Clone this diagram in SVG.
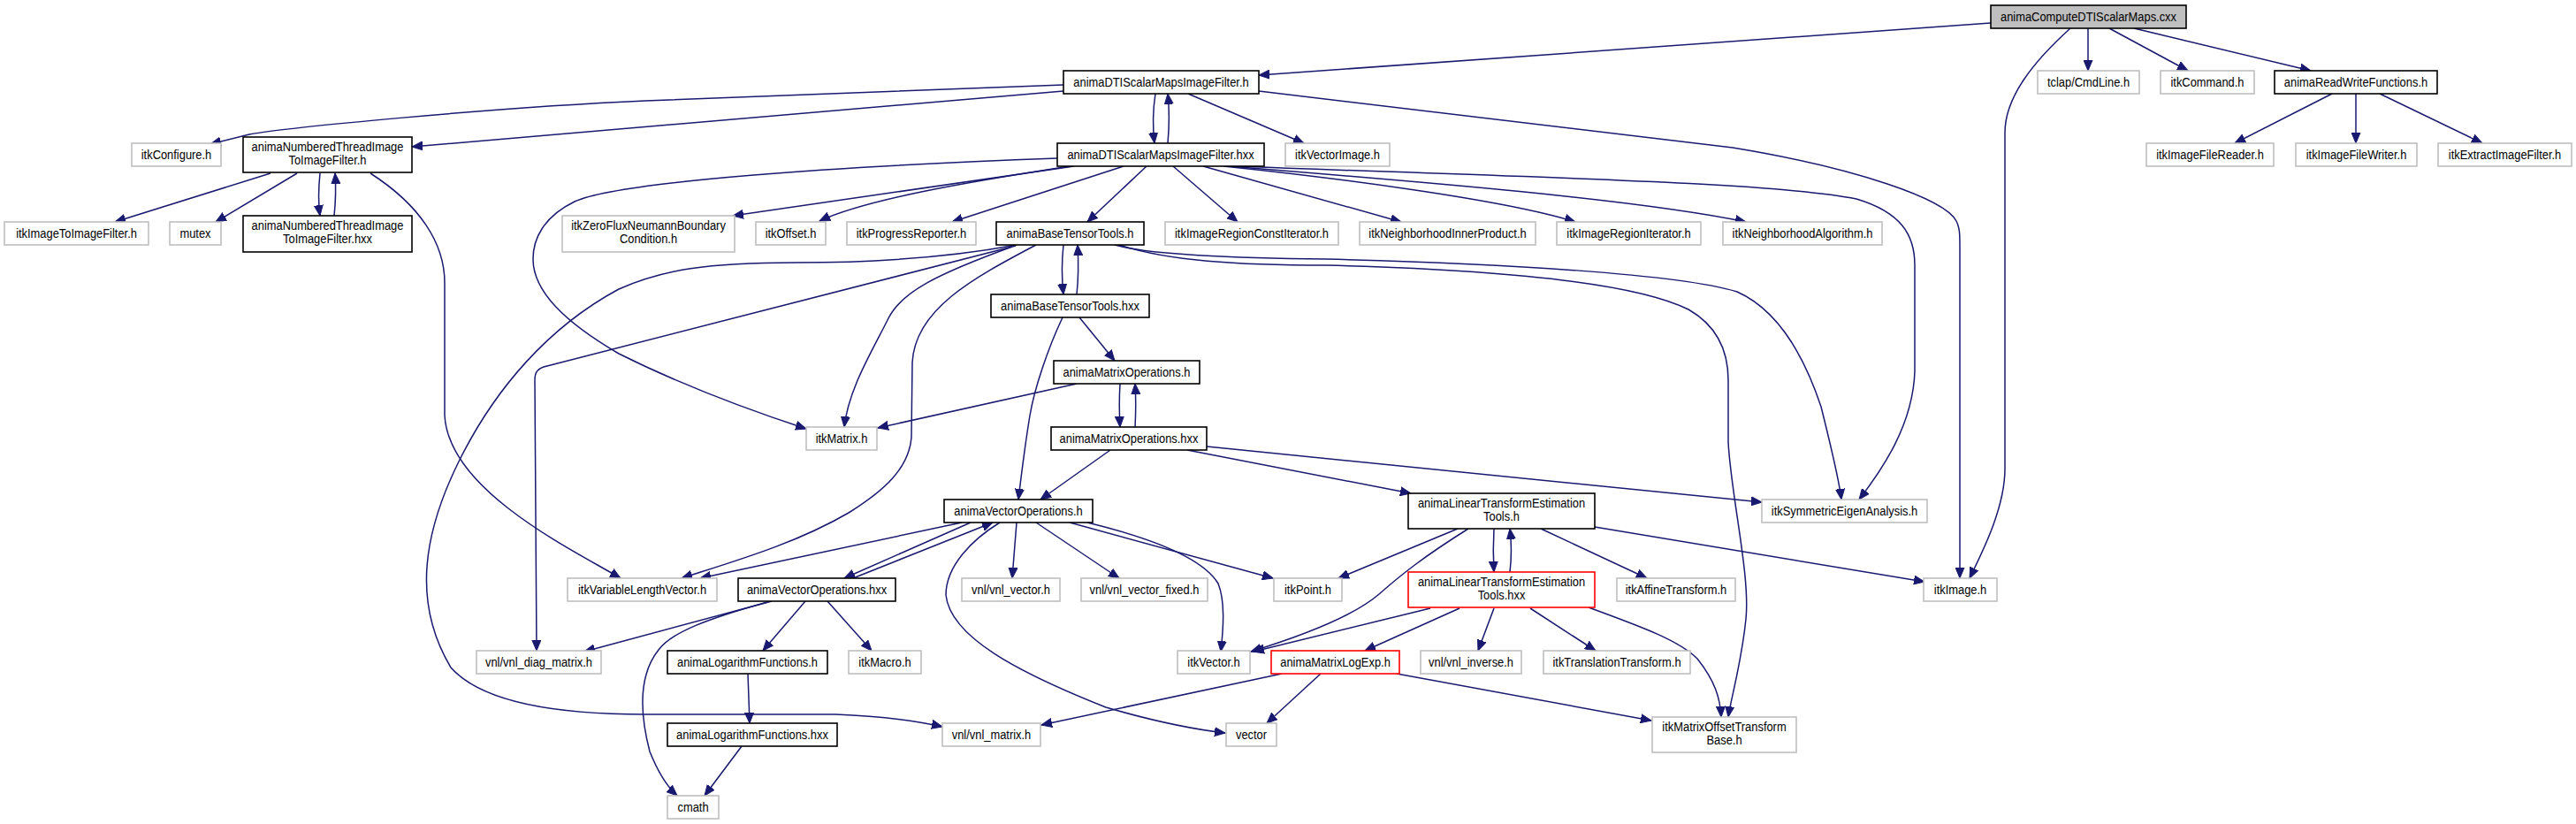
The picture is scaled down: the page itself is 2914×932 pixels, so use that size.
<svg xmlns="http://www.w3.org/2000/svg" width="2914" height="932" viewBox="0 0 2914 932">
<style>
.ext{fill:#fff;stroke:#bfbfbf;stroke-width:1.6}
.anm{fill:#fff;stroke:#000;stroke-width:1.6}
.red{fill:#fff;stroke:#ff0000;stroke-width:1.6}
.root{fill:#bfbfbf;stroke:#000;stroke-width:1.6}
text{font-family:"Liberation Sans",Arial,sans-serif;font-size:15px;text-anchor:middle;fill:#000}
.e{fill:none;stroke:#191970;stroke-width:1.5;marker-end:url(#ah)}
</style>
<defs>
<marker id="ah" markerUnits="userSpaceOnUse" markerWidth="13" markerHeight="11" refX="12" refY="5.5" orient="auto" viewBox="0 0 13 11"><path d="M0,0.5 L12,5.5 L0,10.5 z" fill="#191970" stroke="#191970" stroke-width="1"/></marker>
</defs>
<rect width="2914" height="932" fill="#fff"/>
<g id="edges">
<path class="e" d="M2252,26 L1424,85"/>
<path class="e" d="M2362,32 L2362,80"/>
<path class="e" d="M2386,32 L2475,80"/>
<path class="e" d="M2414,32 L2614,80"/>
<path class="e" d="M2342,32 C2300,70 2268,110 2268,150 L2268,530 C2268,575 2242,625 2228,654"/>
<path class="e" d="M1424,103 L1960,167 C2100,190 2200,225 2213,250 C2217,258 2217,265 2217,280 L2217,654"/>
<path class="e" d="M1203,96 L730,114 C550,122 320,145 282,152 L238,163"/>
<path class="e" d="M1203,103 L466,166"/>
<path class="e" d="M1307,106 C1304,125 1304,145 1306,162"/>
<path class="e" d="M1321,162 C1323,140 1323,125 1321,106"/>
<path class="e" d="M1344,106 L1475,162"/>
<path class="e" d="M2638,106 L2528,162"/>
<path class="e" d="M2665,106 L2665,162"/>
<path class="e" d="M2692,106 L2808,162"/>
<path class="e" d="M1196,179 C950,188 700,205 650,228 C615,245 603,270 603,293 C603,330 640,365 700,400 C780,440 860,468 912,485"/>
<path class="e" d="M1215,188 L829,244"/>
<path class="e" d="M1210,188 C1100,205 980,225 927,250"/>
<path class="e" d="M1271,188 L1077,251"/>
<path class="e" d="M1297,188 L1230,251"/>
<path class="e" d="M1327,188 L1400,251"/>
<path class="e" d="M1361,188 L1585,251"/>
<path class="e" d="M1384,188 C1500,200 1700,225 1782,251"/>
<path class="e" d="M1390,188 C1600,205 1850,225 1975,251"/>
<path class="e" d="M1400,188 C1700,200 2000,205 2100,225 C2150,240 2166,265 2166,300 L2166,420 C2164,480 2130,530 2103,565"/>
<path class="e" d="M306,196 L130,251"/>
<path class="e" d="M336,196 L244,251"/>
<path class="e" d="M362,196 C360,215 360,230 362,244"/>
<path class="e" d="M378,244 C380,225 380,210 379,196"/>
<path class="e" d="M419,196 C475,232 503,275 503,320 L503,470 C505,505 530,540 575,575 C620,610 670,635 702,654"/>
<path class="e" d="M1203,277 C1201,295 1201,315 1203,333"/>
<path class="e" d="M1218,333 C1220,315 1220,295 1219,277"/>
<path class="e" d="M1150,277 C1080,290 1000,297 900,297 C800,297 750,305 700,327 C620,370 560,440 520,520 C480,600 465,680 510,755 C550,800 650,808 730,808 L945,808 C1000,810 1040,816 1066,822"/>
<path class="e" d="M1149,278 L615,415 C607,418 605,422 605,430 L607,736"/>
<path class="e" d="M1145,279 C1060,310 1020,330 1005,360 C985,400 960,440 955,483"/>
<path class="e" d="M1172,277 C1100,315 1035,350 1032,410 L1031,495 C1028,530 1000,555 960,580 C900,615 830,635 771,654"/>
<path class="e" d="M1261,277 C1300,288 1400,292 1500,293 C1700,298 1900,310 1965,330 C2010,350 2040,400 2060,460 C2070,500 2080,540 2083,565"/>
<path class="e" d="M1266,277 C1320,295 1400,300 1500,300 C1700,305 1850,320 1910,350 C1945,370 1955,400 1955,430 L1955,500 C1958,560 1980,650 1975,700 C1970,750 1958,790 1955,811"/>
<path class="e" d="M1221,359 L1261,408"/>
<path class="e" d="M1202,359 C1185,395 1170,440 1165,470 C1160,500 1155,540 1152,565"/>
<path class="e" d="M1267,434 C1266,450 1266,465 1267,483"/>
<path class="e" d="M1284,483 C1285,465 1285,450 1284,434"/>
<path class="e" d="M1218,434 L993,484"/>
<path class="e" d="M1256,509 L1177,565"/>
<path class="e" d="M1365,505 L1993,568"/>
<path class="e" d="M1343,509 L1596,558"/>
<path class="e" d="M1088,591 L792,654"/>
<path class="e" d="M1098,591 L955,654"/>
<path class="e" d="M965,654 L1123,591"/>
<path class="e" d="M1131,591 C1100,610 1070,640 1070,673 C1075,720 1150,760 1251,800 C1320,820 1360,826 1386,829"/>
<path class="e" d="M1150,591 L1145,654"/>
<path class="e" d="M1172,591 L1266,654"/>
<path class="e" d="M1210,591 L1440,654"/>
<path class="e" d="M1230,591 C1300,608 1360,630 1378,660 C1386,680 1384,710 1381,737"/>
<path class="e" d="M873,680 L661,737"/>
<path class="e" d="M868,681 C800,700 760,715 745,735 C725,760 722,800 735,850 C745,875 755,890 766,900"/>
<path class="e" d="M911,680 L863,736"/>
<path class="e" d="M936,680 L986,736"/>
<path class="e" d="M846,762 L848,818"/>
<path class="e" d="M839,844 L797,900"/>
<path class="e" d="M1690,598 C1689,615 1689,630 1690,647"/>
<path class="e" d="M1708,647 C1710,630 1710,615 1708,598"/>
<path class="e" d="M1649,598 L1514,654"/>
<path class="e" d="M1661,598 C1610,630 1585,650 1560,672 C1530,698 1470,720 1415,737"/>
<path class="e" d="M1743,598 L1863,654"/>
<path class="e" d="M1804,596 L2177,658"/>
<path class="e" d="M1618,688 L1418,737"/>
<path class="e" d="M1651,688 L1544,736"/>
<path class="e" d="M1690,688 L1672,736"/>
<path class="e" d="M1731,688 L1805,736"/>
<path class="e" d="M1797,687 C1860,710 1900,725 1920,745 C1940,770 1946,790 1947,811"/>
<path class="e" d="M1450,762 L1178,820"/>
<path class="e" d="M1494,762 L1433,818"/>
<path class="e" d="M1580,762 L1868,815"/>
</g>
<g id="n_root"><rect class="root" x="2252" y="6" width="221" height="26"/><text transform="translate(2362.5,24) scale(0.86,1)">animaComputeDTIScalarMaps.cxx</text></g>
<g id="n_dtih"><rect class="anm" x="1203" y="80" width="221" height="26"/><text transform="translate(1313.5,98) scale(0.86,1)">animaDTIScalarMapsImageFilter.h</text></g>
<g id="n_tclap"><rect class="ext" x="2305" y="80" width="115" height="26"/><text transform="translate(2362.5,98) scale(0.86,1)">tclap/CmdLine.h</text></g>
<g id="n_itkCommand"><rect class="ext" x="2444" y="80" width="106" height="26"/><text transform="translate(2497,98) scale(0.86,1)">itkCommand.h</text></g>
<g id="n_rw"><rect class="anm" x="2573" y="80" width="184" height="26"/><text transform="translate(2665,98) scale(0.86,1)">animaReadWriteFunctions.h</text></g>
<g id="n_itkConfigure"><rect class="ext" x="149" y="162" width="101" height="26"/><text transform="translate(199.5,180) scale(0.86,1)">itkConfigure.h</text></g>
<g id="n_nth"><rect class="anm" x="275" y="155" width="191" height="40"/><text transform="translate(370.5,171) scale(0.86,1)">animaNumberedThreadImage</text><text transform="translate(370.5,186) scale(0.86,1)">ToImageFilter.h</text></g>
<g id="n_dtihxx"><rect class="anm" x="1196" y="162" width="234" height="26"/><text transform="translate(1313,180) scale(0.86,1)">animaDTIScalarMapsImageFilter.hxx</text></g>
<g id="n_itkVectorImage"><rect class="ext" x="1454" y="162" width="118" height="26"/><text transform="translate(1513,180) scale(0.86,1)">itkVectorImage.h</text></g>
<g id="n_reader"><rect class="ext" x="2428" y="162" width="144" height="26"/><text transform="translate(2500,180) scale(0.86,1)">itkImageFileReader.h</text></g>
<g id="n_writer"><rect class="ext" x="2597" y="162" width="137" height="26"/><text transform="translate(2665.5,180) scale(0.86,1)">itkImageFileWriter.h</text></g>
<g id="n_extract"><rect class="ext" x="2758" y="162" width="151" height="26"/><text transform="translate(2833.5,180) scale(0.86,1)">itkExtractImageFilter.h</text></g>
<g id="n_i2i"><rect class="ext" x="5" y="251" width="163" height="26"/><text transform="translate(86.5,269) scale(0.86,1)">itkImageToImageFilter.h</text></g>
<g id="n_mutex"><rect class="ext" x="192" y="251" width="58" height="26"/><text transform="translate(221,269) scale(0.86,1)">mutex</text></g>
<g id="n_nthxx"><rect class="anm" x="275" y="244" width="191" height="41"/><text transform="translate(370.5,260) scale(0.86,1)">animaNumberedThreadImage</text><text transform="translate(370.5,275) scale(0.86,1)">ToImageFilter.hxx</text></g>
<g id="n_zeroflux"><rect class="ext" x="636" y="244" width="195" height="41"/><text transform="translate(733.5,260) scale(0.86,1)">itkZeroFluxNeumannBoundary</text><text transform="translate(733.5,275) scale(0.86,1)">Condition.h</text></g>
<g id="n_offset"><rect class="ext" x="855" y="251" width="79" height="26"/><text transform="translate(894.5,269) scale(0.86,1)">itkOffset.h</text></g>
<g id="n_progress"><rect class="ext" x="958" y="251" width="146" height="26"/><text transform="translate(1031,269) scale(0.86,1)">itkProgressReporter.h</text></g>
<g id="n_btth"><rect class="anm" x="1127" y="251" width="167" height="26"/><text transform="translate(1210.5,269) scale(0.86,1)">animaBaseTensorTools.h</text></g>
<g id="n_regconst"><rect class="ext" x="1318" y="251" width="196" height="26"/><text transform="translate(1416,269) scale(0.86,1)">itkImageRegionConstIterator.h</text></g>
<g id="n_nip"><rect class="ext" x="1538" y="251" width="199" height="26"/><text transform="translate(1637.5,269) scale(0.86,1)">itkNeighborhoodInnerProduct.h</text></g>
<g id="n_regit"><rect class="ext" x="1761" y="251" width="163" height="26"/><text transform="translate(1842.5,269) scale(0.86,1)">itkImageRegionIterator.h</text></g>
<g id="n_nalg"><rect class="ext" x="1949" y="251" width="180" height="26"/><text transform="translate(2039,269) scale(0.86,1)">itkNeighborhoodAlgorithm.h</text></g>
<g id="n_btthxx"><rect class="anm" x="1121" y="333" width="179" height="26"/><text transform="translate(1210.5,351) scale(0.86,1)">animaBaseTensorTools.hxx</text></g>
<g id="n_moh"><rect class="anm" x="1192" y="408" width="165" height="26"/><text transform="translate(1274.5,426) scale(0.86,1)">animaMatrixOperations.h</text></g>
<g id="n_itkMatrix"><rect class="ext" x="912" y="483" width="80" height="26"/><text transform="translate(952,501) scale(0.86,1)">itkMatrix.h</text></g>
<g id="n_mohxx"><rect class="anm" x="1189" y="483" width="176" height="26"/><text transform="translate(1277,501) scale(0.86,1)">animaMatrixOperations.hxx</text></g>
<g id="n_voh"><rect class="anm" x="1068" y="565" width="168" height="26"/><text transform="translate(1152,583) scale(0.86,1)">animaVectorOperations.h</text></g>
<g id="n_lteth"><rect class="anm" x="1593" y="558" width="211" height="40"/><text transform="translate(1698.5,574) scale(0.86,1)">animaLinearTransformEstimation</text><text transform="translate(1698.5,589) scale(0.86,1)">Tools.h</text></g>
<g id="n_symeig"><rect class="ext" x="1993" y="565" width="187" height="26"/><text transform="translate(2086.5,583) scale(0.86,1)">itkSymmetricEigenAnalysis.h</text></g>
<g id="n_vlv"><rect class="ext" x="642" y="654" width="169" height="26"/><text transform="translate(726.5,672) scale(0.86,1)">itkVariableLengthVector.h</text></g>
<g id="n_vohxx"><rect class="anm" x="835" y="654" width="178" height="26"/><text transform="translate(924,672) scale(0.86,1)">animaVectorOperations.hxx</text></g>
<g id="n_vnlvec"><rect class="ext" x="1088" y="654" width="111" height="26"/><text transform="translate(1143.5,672) scale(0.86,1)">vnl/vnl_vector.h</text></g>
<g id="n_vnlvecfixed"><rect class="ext" x="1223" y="654" width="143" height="26"/><text transform="translate(1294.5,672) scale(0.86,1)">vnl/vnl_vector_fixed.h</text></g>
<g id="n_itkPoint"><rect class="ext" x="1441" y="654" width="77" height="26"/><text transform="translate(1479.5,672) scale(0.86,1)">itkPoint.h</text></g>
<g id="n_ltethxx"><rect class="red" x="1593" y="647" width="211" height="40"/><text transform="translate(1698.5,663) scale(0.86,1)">animaLinearTransformEstimation</text><text transform="translate(1698.5,678) scale(0.86,1)">Tools.hxx</text></g>
<g id="n_affine"><rect class="ext" x="1829" y="654" width="134" height="26"/><text transform="translate(1896,672) scale(0.86,1)">itkAffineTransform.h</text></g>
<g id="n_itkImage"><rect class="ext" x="2176" y="654" width="83" height="26"/><text transform="translate(2217.5,672) scale(0.86,1)">itkImage.h</text></g>
<g id="n_diag"><rect class="ext" x="539" y="736" width="141" height="26"/><text transform="translate(609.5,754) scale(0.86,1)">vnl/vnl_diag_matrix.h</text></g>
<g id="n_logh"><rect class="anm" x="755" y="736" width="181" height="26"/><text transform="translate(845.5,754) scale(0.86,1)">animaLogarithmFunctions.h</text></g>
<g id="n_macro"><rect class="ext" x="960" y="736" width="82" height="26"/><text transform="translate(1001,754) scale(0.86,1)">itkMacro.h</text></g>
<g id="n_itkVector"><rect class="ext" x="1332" y="736" width="82" height="26"/><text transform="translate(1373,754) scale(0.86,1)">itkVector.h</text></g>
<g id="n_logexp"><rect class="red" x="1438" y="736" width="145" height="26"/><text transform="translate(1510.5,754) scale(0.86,1)">animaMatrixLogExp.h</text></g>
<g id="n_inverse"><rect class="ext" x="1607" y="736" width="114" height="26"/><text transform="translate(1664,754) scale(0.86,1)">vnl/vnl_inverse.h</text></g>
<g id="n_translation"><rect class="ext" x="1746" y="736" width="166" height="26"/><text transform="translate(1829,754) scale(0.86,1)">itkTranslationTransform.h</text></g>
<g id="n_loghxx"><rect class="anm" x="755" y="818" width="192" height="26"/><text transform="translate(851,836) scale(0.86,1)">animaLogarithmFunctions.hxx</text></g>
<g id="n_vnlmat"><rect class="ext" x="1066" y="818" width="111" height="26"/><text transform="translate(1121.5,836) scale(0.86,1)">vnl/vnl_matrix.h</text></g>
<g id="n_vector"><rect class="ext" x="1387" y="818" width="57" height="26"/><text transform="translate(1415.5,836) scale(0.86,1)">vector</text></g>
<g id="n_motb"><rect class="ext" x="1869" y="811" width="163" height="40"/><text transform="translate(1950.5,827) scale(0.86,1)">itkMatrixOffsetTransform</text><text transform="translate(1950.5,842) scale(0.86,1)">Base.h</text></g>
<g id="n_cmath"><rect class="ext" x="755" y="900" width="58" height="26"/><text transform="translate(784,918) scale(0.86,1)">cmath</text></g>
</svg>
